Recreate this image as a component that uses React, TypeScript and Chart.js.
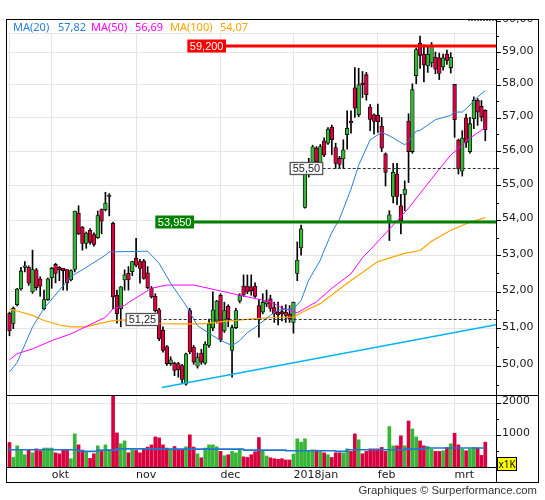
import React, { useEffect, useRef } from "react";
import { Chart, registerables } from "chart.js";

Chart.register(...registerables);
Chart.defaults.font.family = "'DejaVu Sans', sans-serif";

// ---------- data ----------
const X_MIN = -0.65;
const X_MAX = 126.79;
const PRICE_MIN = 49.21;
const PRICE_MAX = 60.05;
const VOL_MAX = 2230;

const monthTicks = [0, 11, 33, 55, 74, 96, 116];
const monthLabels = ["", "okt", "nov", "dec", "2018jan", "feb", "mrt"];
const priceTicks = [49.5, 50, 50.5, 51, 51.5, 52, 52.5, 53, 53.5, 54, 54.5, 55, 55.5, 56, 56.5, 57, 57.5, 58, 58.5, 59, 59.5, 60];
const volTicks = [500, 1000, 1500, 2000];

const opens = [51.41,51.13,51.64,52.07,52.67,52.67,51.99,52.60,52.35,51.53,
51.78,52.38,52.75,52.67,52.64,52.61,52.32,52.61,54.20,53.80,
53.34,53.71,53.59,53.50,54.30,54.30,54.68,53.91,51.90,51.53,
52.32,52.50,52.55,52.92,52.83,52.85,52.52,52.09,51.87,51.50,
50.95,50.51,50.06,50.07,50.06,50.01,49.52,51.48,50.50,49.99,
50.34,50.07,50.54,51.01,51.19,51.90,50.93,51.60,50.41,51.02,
51.74,52.15,52.15,52.13,52.15,51.62,51.44,51.66,51.80,51.56,
51.44,51.45,51.44,51.39,51.16,52.50,53.21,54.36,55.34,55.66,
56.09,55.64,56.31,56.24,56.72,56.11,55.79,55.77,56.49,56.90,
57.91,57.09,58.06,58.31,57.32,57.09,57.07,56.74,55.92,53.97,
54.68,55.33,54.41,54.74,56.90,55.99,58.28,59.29,58.95,58.58,
58.67,58.85,58.83,58.55,58.95,58.53,58.01,56.33,55.41,57.00,
55.99,56.97,57.53,57.34,57.22];

const highs = [51.44,51.58,52.09,52.67,52.83,52.71,53.15,52.64,52.41,52.04,
52.37,52.67,52.78,52.69,52.64,52.61,52.60,54.26,54.41,53.82,
53.66,53.76,53.64,54.26,54.32,54.80,54.76,53.94,52.04,52.14,
52.60,52.69,52.84,53.48,52.89,52.89,52.69,52.14,51.94,51.54,
51.04,50.54,50.24,50.10,50.09,50.04,50.34,51.54,50.54,50.34,
50.44,50.64,51.25,51.99,51.76,51.94,51.71,51.64,51.09,51.54,
51.94,52.46,52.46,52.46,52.24,51.79,51.94,52.04,51.90,51.71,
51.71,51.60,51.64,51.62,51.71,53.38,53.86,55.39,55.79,56.18,
56.14,56.20,56.40,56.70,56.78,56.24,55.85,56.34,57.21,57.21,
58.53,58.51,58.41,58.38,57.40,57.12,57.41,57.01,55.95,54.27,
55.64,55.64,54.74,55.13,57.12,58.03,59.14,59.51,59.24,59.21,
59.31,59.01,58.98,58.95,59.07,58.99,58.01,56.36,56.61,57.11,
57.01,57.63,57.58,57.52,57.24];

const lows = [50.80,50.99,51.61,52.04,52.54,52.17,51.95,52.04,51.87,51.50,
51.76,52.09,52.24,52.30,52.04,52.04,52.29,52.54,53.59,53.15,
53.20,53.32,53.26,53.48,53.61,54.26,54.12,51.53,51.14,51.04,
52.04,52.04,52.44,52.69,52.23,52.34,52.08,51.82,51.44,50.67,
50.36,50.01,50.01,49.74,49.70,49.54,49.49,50.32,50.04,49.94,
50.04,50.04,50.49,50.94,51.14,50.64,50.89,51.04,49.70,50.99,
51.69,51.87,51.94,51.90,51.84,50.76,51.39,51.59,51.46,51.16,
51.09,51.20,51.16,51.16,50.87,52.30,53.01,54.34,55.24,55.58,
55.54,55.58,55.84,56.20,55.90,55.49,55.49,55.49,56.06,56.54,
57.01,57.03,57.61,57.53,56.61,56.51,56.56,55.99,54.98,53.42,
54.49,54.44,53.61,54.27,55.08,55.94,58.03,58.50,58.09,58.38,
58.55,58.34,58.16,58.45,58.63,58.36,56.41,55.33,55.27,56.11,
55.94,56.67,56.77,56.90,56.31];

const closes = [50.93,51.54,52.07,52.57,52.71,52.23,52.61,52.11,52.15,51.78,
52.35,52.64,52.50,52.60,52.58,52.24,52.58,54.26,53.61,53.34,
53.63,53.37,53.31,54.13,53.97,54.49,54.72,51.85,51.40,52.13,
52.46,52.32,52.83,52.73,52.64,52.36,52.11,51.85,51.48,50.72,
50.41,50.06,50.16,49.88,49.90,49.64,50.32,50.37,50.10,50.22,
50.10,50.58,51.12,51.50,51.74,50.69,51.48,51.25,51.02,51.48,
51.90,51.90,51.99,52.02,51.87,51.24,51.71,51.74,51.54,51.39,
51.37,51.39,51.35,51.25,51.71,52.87,53.75,55.33,55.64,56.13,
55.69,56.14,55.89,56.66,56.34,55.64,55.61,56.04,56.68,56.84,
57.29,58.00,58.00,57.70,56.95,56.89,56.87,56.09,55.38,54.15,
55.38,54.68,53.98,54.89,55.99,57.85,59.09,58.91,58.61,58.94,
59.18,58.48,58.35,58.83,58.75,58.85,56.94,55.49,56.39,56.26,
56.82,57.53,57.17,57.02,56.64];

const volumes = [770,300,665,540,385,540,445,570,510,595,
595,595,445,415,540,540,260,1040,695,530,
480,270,415,665,490,695,540,2600,1070,730,
820,445,530,520,445,580,625,695,945,915,
695,595,560,645,560,560,635,1010,625,415,
290,595,695,695,635,490,355,385,490,445,
570,320,300,385,480,925,510,345,290,260,
240,260,220,220,405,885,780,885,510,540,
530,510,445,385,300,445,445,435,570,490,
1040,855,415,490,570,570,570,615,490,1270,
665,665,980,665,1445,1195,945,820,665,645,
560,490,490,510,615,730,1060,695,560,510,
570,615,595,365,780];

const ma20X = [0,2,6,9,13,16,20,23,25,26,36,39,42,46,49,53,56,58,60,62,64,68,70,74,76,78,81,82,84,86,89,91,94,97,99,103,104,106,107,111,115,116,118,120,122,124];
const ma20Y = [49.84,50.09,51.04,51.54,52.04,52.41,52.67,52.87,53.01,53.10,53.12,52.78,52.23,51.62,51.07,50.80,50.63,50.54,50.67,50.89,51.02,51.35,51.49,51.53,51.76,52.32,52.87,53.14,53.65,54.03,54.89,55.59,56.34,56.56,56.46,56.19,56.30,56.60,56.62,56.94,57.07,57.17,57.17,57.38,57.63,57.82];

const ma50X = [0,2,6,11,16,21,25,27,30,31,37,41,48,54,60,64,68,71,75,80,84,89,92,94,99,104,110,115,120,124];
const ma50Y = [50.16,50.32,50.45,50.67,50.85,51.10,51.30,51.53,51.62,51.70,52.09,52.18,52.18,52.04,51.90,51.81,51.72,51.55,51.42,51.72,52.09,52.49,52.94,53.16,53.74,54.34,55.19,55.89,56.39,56.70];

const ma100X = [0,2,6,9,13,16,20,23,27,30,38,43,50,56,64,70,74,76,81,88,96,103,107,110,115,120,124];
const ma100Y = [51.52,51.47,51.35,51.21,51.09,51.04,51.04,51.12,51.21,51.23,51.13,51.12,51.12,51.19,51.26,51.30,51.30,51.42,51.67,52.23,52.83,53.06,53.14,53.40,53.71,53.94,54.07];

const trendX = [39.7, 126.8];
const trendY = [49.43, 51.10];

const volMaX = [0, 18, 23, 28, 39, 61, 72, 85, 88, 103, 108, 121, 124];
const volMaY = [615, 540, 490, 530, 570, 560, 530, 510, 490, 540, 560, 595, 595];

const legendNames = ["MA(20)", "MA(50)", "MA(100)"];
const legendValues = ["57,82", "56,69", "54,07"];

const levelValues = [59.2, 53.95, 55.5, 51.25];
const levelTexts = ["59,200", "53,950", "55,50", "51,25"];
const levelLabelEnd = [56.42, 48.08, 81.63, 38.88];
const levelSolid = [true, true, false, false];

// ---------- styles ----------
const RED = "#d9003f";
const GREEN = "#36b536";
const GRID = "#e6e6e6";
const MA20_C = "#2a7fd6";
const MA50_C = "#ff00ff";
const MA100_C = "#ffa500";
const TREND_C = "#00b4f0";
const LEVEL_C = ["#ff0000", "#008000", "#333333", "#333333"];
const TXT = "#1a1a1a";

const idx = opens.map((_, i) => i);
const barColors = idx.map((i) => (closes[i] >= opens[i] ? GREEN : RED));

function lineDs(xs: number[], ys: number[], color: string, w: number, extra: any = {}) {
  return {
    type: "line",
    data: xs.map((x, k) => ({ x, y: ys[k] })),
    borderColor: color,
    borderWidth: w,
    pointRadius: 0,
    tension: 0,
    fill: false,
    order: 0,
    clip: 0,
    ...extra,
  };
}

const pricePlugin = {
  id: "priceDecor",
  beforeDatasetsDraw(chart: any) {
    const { ctx, chartArea: a, scales } = chart;
    const x0 = scales.x.getPixelForValue(0);
    ctx.save();
    ctx.fillStyle = "#ffffff";
    ctx.fillRect(a.left, a.top, a.right - a.left, 14);
    ctx.strokeStyle = GRID;
    ctx.lineWidth = 1;
    ctx.beginPath();
    ctx.moveTo(Math.round(x0) + 0.5, a.top + 14.5);
    ctx.lineTo(a.right, a.top + 14.5);
    ctx.stroke();
    ctx.restore();
  },
  afterDatasetsDraw(chart: any) {
    const { ctx, chartArea: a, scales } = chart;
    const { x, y } = scales;
    ctx.save();
    ctx.font = "11px 'Liberation Sans', sans-serif";
    ctx.textBaseline = "middle";
    ctx.textAlign = "center";
    levelValues.forEach((v, k) => {
      const solid = levelSolid[k];
      const py = solid ? Math.round(y.getPixelForValue(v)) : Math.round(y.getPixelForValue(v)) + 0.5;
      const right = x.getPixelForValue(levelLabelEnd[k]);
      const w = ctx.measureText(levelTexts[k]).width + 5;
      const h = solid ? 13 : 12;
      const left = right - w;
      ctx.beginPath();
      ctx.strokeStyle = LEVEL_C[k];
      if (solid) {
        ctx.lineWidth = 3;
        ctx.setLineDash([]);
      } else {
        ctx.lineWidth = 1;
        ctx.setLineDash([3, 2]);
      }
      ctx.moveTo(right, py);
      ctx.lineTo(a.right, py);
      ctx.stroke();
      ctx.setLineDash([]);
      if (solid) {
        ctx.fillStyle = LEVEL_C[k];
        ctx.fillRect(left, py - h / 2, w, h);
        ctx.fillStyle = "#ffffff";
      } else {
        ctx.fillStyle = "#ffffff";
        ctx.fillRect(left, py - h / 2, w, h);
        ctx.strokeStyle = "#555555";
        ctx.lineWidth = 1.3;
        ctx.strokeRect(left, py - h / 2, w, h);
        ctx.fillStyle = "#1a1a2a";
      }
      ctx.fillText(levelTexts[k], left + w / 2, py + 0.5);
    });
    ctx.restore();
  },
  afterDraw(chart: any) {
    const { ctx, chartArea: a, scales } = chart;
    const y = scales.y;
    ctx.save();
    ctx.strokeStyle = "#000";
    ctx.lineWidth = 1;
    y.ticks.forEach((t: any) => {
      const py = Math.round(y.getPixelForValue(t.value)) + 0.5;
      if (py < a.top || py > a.bottom) return;
      const len = Number.isInteger(t.value) ? 5 : 3;
      ctx.beginPath();
      ctx.moveTo(a.right, py);
      ctx.lineTo(a.right + len, py);
      ctx.stroke();
    });
    ctx.strokeStyle = "#666";
    ctx.setLineDash([2, 1]);
    ctx.beginPath();
    ctx.moveTo(a.right - 28, a.top + 1.5);
    ctx.lineTo(a.right, a.top + 1.5);
    ctx.stroke();
    ctx.setLineDash([]);
    ctx.fillStyle = "#ffffff";
    ctx.fillRect(0, 0, chart.width, a.top);
    ctx.restore();
  },
};

const volPlugin = {
  id: "volDecor",
  afterDraw(chart: any) {
    const { ctx, chartArea: a, scales } = chart;
    const y = scales.y;
    ctx.save();
    ctx.strokeStyle = "#000";
    ctx.lineWidth = 1;
    y.ticks.forEach((t: any) => {
      const py = Math.round(y.getPixelForValue(t.value)) + 0.5;
      const len = t.value % 1000 === 0 ? 5 : 3;
      ctx.beginPath();
      ctx.moveTo(a.right, py);
      ctx.lineTo(a.right + len, py);
      ctx.stroke();
    });
    ctx.restore();
  },
};

function xScale(showLabels: boolean) {
  return {
    type: "linear",
    min: X_MIN,
    max: X_MAX,
    bounds: "data",
    offset: false,
    afterBuildTicks: (s: any) => {
      s.ticks = monthTicks.map((v) => ({ value: v }));
    },
    afterFit: (s: any) => {
      s.height = showLabels ? 15 : 0;
      s.paddingLeft = 0;
      s.paddingRight = 0;
    },
    grid: { color: GRID, drawTicks: false, offset: false, lineWidth: 1 },
    border: { display: false },
    ticks: {
      display: showLabels,
      autoSkip: false,
      maxRotation: 0,
      minRotation: 0,
      align: "start",
      padding: 2,
      color: TXT,
      font: { family: "'DejaVu Sans', sans-serif", size: 11 },
      callback: (v: number) => {
        const k = monthTicks.indexOf(v);
        return k >= 0 ? monthLabels[k] : "";
      },
    },
  };
}

function priceConfig(): any {
  return {
    type: "bar",
    data: {
      datasets: [
        lineDs(ma20X, ma20Y, MA20_C, 1),
        lineDs(ma50X, ma50Y, MA50_C, 1),
        lineDs(ma100X, ma100Y, MA100_C, 1.2),
        lineDs(trendX, trendY, TREND_C, 1.5),
        {
          type: "bar",
          data: idx.map((i) => ({ x: i, y: [Math.min(opens[i], closes[i]), Math.max(opens[i], closes[i])] })),
          backgroundColor: barColors,
          borderColor: "#000000",
          borderWidth: 0.8,
          borderSkipped: false,
          barThickness: 3.7,
          grouped: false,
          order: 1,
          clip: 0,
        },
        {
          type: "bar",
          data: idx.map((i) => ({ x: i, y: [lows[i], highs[i]] })),
          backgroundColor: "#000000",
          barThickness: 1,
          grouped: false,
          order: 2,
          clip: 0,
        },
      ],
    },
    options: {
      responsive: false,
      animation: false,
      events: [],
      layout: { padding: { left: 7, right: 7, top: 19, bottom: 0 } },
      plugins: { legend: { display: false }, tooltip: { enabled: false } },
      scales: {
        x: xScale(false),
        y: {
          type: "logarithmic",
          position: "right",
          min: PRICE_MIN,
          max: PRICE_MAX,
          bounds: "data",
          afterBuildTicks: (s: any) => {
            s.ticks = priceTicks.map((v) => ({ value: v }));
          },
          afterFit: (s: any) => {
            s.width = 42;
            s.paddingTop = 0;
            s.paddingBottom = 0;
          },
          grid: {
            drawTicks: false,
            lineWidth: 1,
            color: (c: any) => (c.tick && Number.isInteger(c.tick.value) ? GRID : "rgba(0,0,0,0)"),
          },
          border: { display: false },
          ticks: {
            autoSkip: false,
            padding: 6,
            labelOffset: -1.5,
            color: TXT,
            font: { family: "'DejaVu Sans', sans-serif", size: 11 },
            callback: (v: number) => (Number.isInteger(v) ? v.toFixed(2).replace(".", ",") : ""),
          },
        },
      },
    },
    plugins: [pricePlugin],
  };
}

function volConfig(): any {
  return {
    type: "bar",
    data: {
      datasets: [
        lineDs(volMaX, volMaY, "#1e78d2", 1.6, { stepped: "after" }),
        {
          type: "bar",
          data: idx.map((i) => ({ x: i, y: volumes[i] })),
          backgroundColor: barColors,
          borderWidth: 0,
          barThickness: 3,
          grouped: false,
          order: 1,
          clip: 0,
        },
      ],
    },
    options: {
      responsive: false,
      animation: false,
      events: [],
      layout: { padding: { left: 7, right: 7, top: 0, bottom: 18 } },
      plugins: { legend: { display: false }, tooltip: { enabled: false } },
      scales: {
        x: xScale(true),
        y: {
          type: "linear",
          position: "right",
          min: 0,
          max: VOL_MAX,
          bounds: "data",
          afterBuildTicks: (s: any) => {
            s.ticks = volTicks.map((v) => ({ value: v }));
          },
          afterFit: (s: any) => {
            s.width = 42;
            s.paddingTop = 0;
            s.paddingBottom = 0;
          },
          grid: {
            drawTicks: false,
            lineWidth: 1,
            color: (c: any) => (c.tick && c.tick.value % 1000 === 0 ? GRID : "rgba(0,0,0,0)"),
          },
          border: { display: false },
          ticks: {
            autoSkip: false,
            padding: 6,
            labelOffset: -2,
            color: TXT,
            font: { family: "'DejaVu Sans', sans-serif", size: 11 },
            callback: (v: number) => (v % 1000 === 0 ? String(v) : ""),
          },
        },
      },
    },
    plugins: [volPlugin],
  };
}

const legendX = [13, 58, 91, 135, 170, 220];
const legendColors = [MA20_C, MA50_C, MA100_C];

export default function App() {
  const priceRef = useRef<HTMLCanvasElement>(null);
  const volRef = useRef<HTMLCanvasElement>(null);

  useEffect(() => {
    const pc = new Chart(priceRef.current as HTMLCanvasElement, priceConfig());
    const vc = new Chart(volRef.current as HTMLCanvasElement, volConfig());
    return () => {
      pc.destroy();
      vc.destroy();
    };
  }, []);

  const abs = (s: React.CSSProperties): React.CSSProperties => ({ position: "absolute", ...s });
  const legendItems: { text: string; color: string; left: number }[] = [];
  legendNames.forEach((n, k) => {
    legendItems.push({ text: n, color: legendColors[k], left: legendX[k * 2] });
    legendItems.push({ text: legendValues[k], color: legendColors[k], left: legendX[k * 2 + 1] });
  });

  return (
    <div style={{ position: "fixed", left: 0, top: 0, width: 545, height: 500, background: "#fff", overflow: "hidden" }}>
      <canvas ref={priceRef} width={545} height={396} style={abs({ left: 0, top: 0, width: 545, height: 396 })} />
      <canvas ref={volRef} width={545} height={104} style={abs({ left: 0, top: 396, width: 545, height: 104 })} />
      {legendItems.map((it, k) => (
        <span
          key={k}
          style={abs({
            left: it.left,
            top: 21,
            fontFamily: "'Noto Sans', sans-serif",
            fontSize: 11,
            lineHeight: "11px",
            color: it.color,
            whiteSpace: "nowrap",
          })}
        >
          {it.text}
        </span>
      ))}
      <div style={abs({ left: 6, top: 19, width: 533, height: 464, border: "1px solid #000", boxSizing: "border-box" })} />
      <div style={abs({ left: 6, top: 395, width: 533, height: 1, background: "#000" })} />
      <div style={abs({ left: 496, top: 19, width: 1, height: 464, background: "#000" })} />
      <div style={abs({ left: 6, top: 467, width: 491, height: 1, background: "#000" })} />
      <div
        style={abs({
          left: 497,
          top: 457,
          width: 20,
          height: 14,
          background: "#ffff00",
          border: "1px solid #000",
          boxSizing: "border-box",
          fontFamily: "'Noto Sans', sans-serif",
          fontSize: 10,
          lineHeight: "12px",
          textAlign: "center",
          color: "#000",
        })}
      >
        x1K
      </div>
      <div
        style={abs({
          right: 8,
          top: 484,
          fontFamily: "'Liberation Sans', sans-serif",
          fontSize: 11.3,
          lineHeight: "12px",
          color: "#333",
          whiteSpace: "nowrap",
        })}
      >
        Graphiques © Surperformance.com
      </div>
    </div>
  );
}
